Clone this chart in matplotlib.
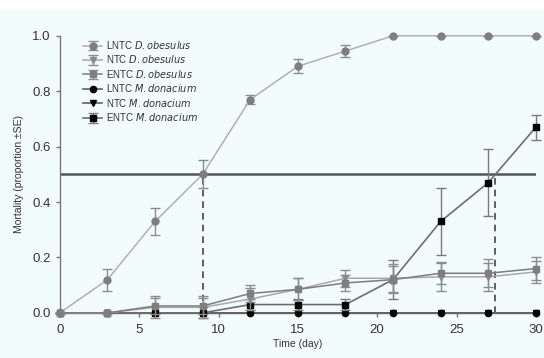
import numpy as np
import matplotlib.pyplot as plt
from matplotlib.patches import Rectangle

plt.rcParams['font.family'] = ['Liberation Sans', 'DejaVu Sans']

# Zeitpunkte (Tage)
days = [0, 3, 6, 9, 12, 15, 18, 21, 24, 27, 30]

# Mortalität (Anteil) und Standardfehler
lntc_dob = [0.0, 0.12, 0.33, 0.50, 0.77, 0.89, 0.945, 1.0, 1.0, 1.0, 1.0]
lntc_dob_se = [0, 0.04, 0.05, 0.05, 0.015, 0.025, 0.02, 0, 0, 0, 0]

ntc_dob = [0.0, 0.0, 0.02, 0.02, 0.05, 0.085, 0.125, 0.125, 0.13, 0.13, 0.148]
ntc_dob_se = [0, 0, 0.04, 0.04, 0.04, 0.04, 0.03, 0.05, 0.05, 0.05, 0.04]

entc_dob = [0.0, 0.0, 0.025, 0.025, 0.07, 0.085, 0.108, 0.12, 0.143, 0.143, 0.16]
entc_dob_se = [0, 0, 0.03, 0.03, 0.03, 0.04, 0.03, 0.05, 0.04, 0.05, 0.04]

lntc_mdo = [0.0, 0.0, 0.0, 0.0, 0.0, 0.0, 0.0, 0.0, 0.0, 0.0, 0.0]
ntc_mdo = [0.0, 0.0, 0.0, 0.0, 0.0, 0.0, 0.0, 0.0, 0.0, 0.0, 0.0]

entc_mdo = [0.0, 0.0, 0.0, 0.0, 0.03, 0.03, 0.03, 0.12, 0.33, 0.47, 0.67]
entc_mdo_se = [0, 0, 0, 0.02, 0.02, 0.02, 0.02, 0.07, 0.12, 0.12, 0.045]

# Tage bis 50 % Mortalität
lt50_days = [9, 27.4]

bg = '#f2fcfd'
fig = plt.figure(figsize=(5.44, 3.58), dpi=100, facecolor=bg)
fig.add_artist(Rectangle((0, 0.972), 1, 0.028, transform=fig.transFigure,
                         facecolor='white', edgecolor='none'))
ax = fig.add_axes([0.110, 0.126, 0.875, 0.774])
ax.set_facecolor(bg)

err_kw = dict(elinewidth=1.0, capsize=3.5, capthick=1.0, clip_on=False)
ms = 4.5

ax.errorbar(days, lntc_mdo, fmt='o-', color='#606060', mfc='black', mec='black',
            ms=ms, lw=1.2, clip_on=False, label='LNTC $\\it{M. donacium}$', zorder=3)
ax.errorbar(days, ntc_mdo, fmt='v-', color='#606060', mfc='black', mec='black',
            ms=ms, lw=1.2, clip_on=False, label='NTC $\\it{M. donacium}$', zorder=2)
ax.errorbar(days, entc_mdo, yerr=entc_mdo_se, fmt='s-', color='#6e6e6e', ecolor='#7a7a7a',
            mfc='black', mec='black', ms=ms, lw=1.2, label='ENTC $\\it{M. donacium}$',
            zorder=4, **err_kw)
ax.errorbar(days, ntc_dob, yerr=ntc_dob_se, fmt='v-', color='#a8a8a8', ecolor='#8c8c8c',
            mfc='#8a8a8a', mec='#8a8a8a', ms=ms, lw=1.1, label='NTC $\\it{D. obesulus}$',
            zorder=5, **err_kw)
ax.errorbar(days, entc_dob, yerr=entc_dob_se, fmt='s-', color='#7c7c7c', ecolor='#8c8c8c',
            mfc='#7e7e7e', mec='#7e7e7e', ms=ms, lw=1.1, label='ENTC $\\it{D. obesulus}$',
            zorder=5, **err_kw)
ax.errorbar(days, lntc_dob, yerr=lntc_dob_se, fmt='o-', color='#b0b0b0', ecolor='#8c8c8c',
            mfc='#7e7e7e', mec='#7e7e7e', ms=5, lw=1.1, label='LNTC $\\it{D. obesulus}$',
            zorder=6, **err_kw)

# 50-%-Linie und Ablesehilfen
ax.axhline(0.5, color='#555555', lw=1.8, zorder=1)
for d in lt50_days:
    ax.plot([d, d], [0, 0.5], ls=(0, (4, 3)), color='#444444', lw=1.2, zorder=1)

ax.set_xlim(0, 30)
ax.set_ylim(0, 1.0)
ax.set_xticks([0, 5, 10, 15, 20, 25, 30])
ax.set_yticks([0.0, 0.2, 0.4, 0.6, 0.8, 1.0])
ax.set_yticklabels(['0.0', '0.2', '0.4', '0.6', '0.8', '1.0'])
for s in ['top', 'right']:
    ax.spines[s].set_visible(False)
for s in ['left', 'bottom']:
    ax.spines[s].set_color('#777777')
    ax.spines[s].set_linewidth(1.0)
ax.tick_params(axis='both', colors='#777777', labelcolor='#333333', labelsize=9.5,
               length=3, width=1.0)
ax.tick_params(axis='x', pad=5)
ax.set_xlabel('Time (day)', fontsize=7.5, color='#333333', labelpad=2)
ax.set_ylabel('Mortality (proportion \u00b1SE)', fontsize=7.5, color='#333333', labelpad=6)

handles, labels = ax.get_legend_handles_labels()
order = [5, 3, 4, 0, 1, 2]
ax.legend([handles[i] for i in order], [labels[i] for i in order], loc='upper left',
          bbox_to_anchor=(0.03, 1.02), frameon=False, fontsize=7, handlelength=2.0,
          handletextpad=0.4, labelspacing=0.25, labelcolor='#333333')

fig.savefig('out.png', dpi=100, facecolor=bg)
